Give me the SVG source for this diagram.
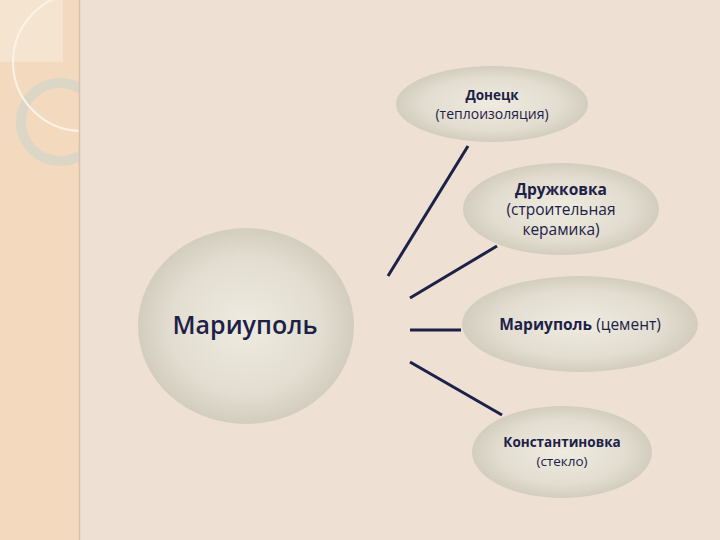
<svg xmlns="http://www.w3.org/2000/svg" width="720" height="540" viewBox="0 0 720 540">
<defs>
<radialGradient id="g" cx="50%" cy="50%" r="50%">
<stop offset="0" stop-color="#f0ebe0"/>
<stop offset="0.7" stop-color="#e2ddd0"/>
<stop offset="1" stop-color="#d3cdbf"/>
</radialGradient>
<clipPath id="strip"><rect x="0" y="0" width="79" height="540"/></clipPath>
<style>
.n{fill:url(#g);}
.t{font-family:"Open Sans","Liberation Sans",sans-serif;fill:#1c2148;text-anchor:middle;}
.b{font-weight:bold;}
.c{stroke:#1c2148;stroke-width:3;fill:none;}
</style>
</defs>
<rect x="0" y="0" width="720" height="540" fill="#eee0d3"/>
<g id="decor">
<rect x="0" y="0" width="79" height="540" fill="#f3d9bd"/>
<rect x="0" y="0" width="63" height="62" fill="#f5e5d0"/>
<g clip-path="url(#strip)">
<circle cx="60" cy="122" r="39" fill="none" stroke="#dcd6c6" stroke-width="10"/>
<circle cx="82" cy="62" r="69" fill="none" stroke="#fbf3e6" stroke-width="2"/>
</g>
<line x1="79.5" y1="0" x2="79.5" y2="540" stroke="#dcc0ab" stroke-width="1.5"/>
</g>
<g id="connectors">
<line class="c" x1="388" y1="276" x2="468" y2="146"/>
<line class="c" x1="410" y1="298" x2="497" y2="246"/>
<line class="c" x1="410" y1="330" x2="461" y2="330"/>
<line class="c" x1="410" y1="362" x2="502" y2="415"/>
</g>
<g id="mariupol-center">
<ellipse class="n" cx="246" cy="326" rx="108" ry="98"/>
<text class="t" x="245" y="334" font-size="25" font-weight="600">Мариуполь</text>
</g>
<g id="donetsk">
<ellipse class="n" cx="492" cy="104" rx="96" ry="38"/>
<text class="t b" x="492" y="100" font-size="13.5">Донецк</text>
<text class="t" x="492" y="119" font-size="14">(теплоизоляция)</text>
</g>
<g id="druzhkovka">
<ellipse class="n" cx="561" cy="209" rx="98" ry="46"/>
<text class="t b" x="561" y="195" font-size="15.5">Дружковка</text>
<text class="t" x="561" y="215" font-size="15.5">(строительная</text>
<text class="t" x="561" y="235" font-size="15.5">керамика)</text>
</g>
<g id="mariupol-cement">
<ellipse class="n" cx="580" cy="324" rx="118" ry="48"/>
<text class="t" x="580" y="330" font-size="15.5"><tspan class="b">Мариуполь</tspan> (цемент)</text>
</g>
<g id="konstantinovka">
<ellipse class="n" cx="562" cy="452" rx="90" ry="46"/>
<text class="t b" x="562" y="447" font-size="13.5">Константиновка</text>
<text class="t" x="562" y="466" font-size="13.5">(стекло)</text>
</g>
</svg>
